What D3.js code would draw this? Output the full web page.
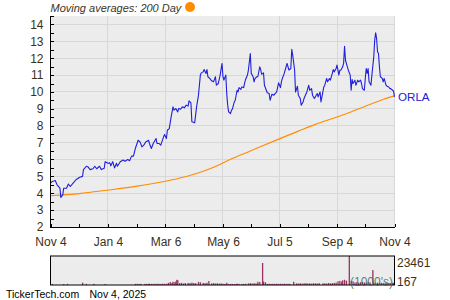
<!DOCTYPE html>
<html><head><meta charset="utf-8">
<script src="https://cdn.jsdelivr.net/npm/d3@7"></script>
<style>body{margin:0;background:#fff;} svg{display:block;font-family:"Liberation Sans",Arial,sans-serif;}</style>
</head><body><svg id="c" width="450" height="300"></svg>
<script>
// ---------- data ----------
const startDateStr = "2024-11-04";
const xTickDates = ["2024-11-04","2025-01-04","2025-03-06","2025-05-06","2025-07-05","2025-09-04","2025-11-04"];
const xTickLabels = ["Nov 4","Jan 4","Mar 6","May 6","Jul 5","Sep 4","Nov 4"];
const xMinorDates = ["2024-12-04","2025-02-04","2025-04-05","2025-06-05","2025-08-04","2025-10-04"];
const yTickValues = [2,3,4,5,6,7,8,9,10,11,12,13,14];
const yMinorValues = [2.5,3.5,4.5,5.5,6.5,7.5,8.5,9.5,10.5,11.5,12.5,13.5,14.5];
const symbol = "ORLA";
const titleText = "Moving averages: 200 Day";
// [days since start, close]
const priceSeries = [[0,4.6],[2,4.7],[5,4.75],[7,4.5],[10,4.3],[11,3.75],[13,3.9],[14,4.3],[17,4.3],[19,4.55],[21,4.4],[24,4.6],[27,4.8],[31,4.95],[34,5.0],[35,5.4],[38,5.6],[40,5.55],[42,5.4],[45,5.45],[47,5.6],[49,5.45],[52,5.6],[54,5.4],[57,5.48],[58,5.87],[61,5.78],[63,5.8],[64,5.62],[66,5.87],[68,5.5],[70,5.78],[71,5.6],[74,5.87],[77,5.97],[79,5.9],[82,6.0],[84,5.93],[86,6.2],[88,6.2],[90,6.65],[93,7.14],[95,7.04],[97,6.75],[99,6.85],[101,7.04],[104,7.14],[105,6.95],[107,6.65],[109,6.95],[112,7.24],[113,6.95],[115,6.95],[117,6.85],[120,7.34],[121,7.48],[123,7.24],[124,7.73],[126,7.83],[128,8.52],[130,9.12],[131,8.92],[133,9.02],[135,8.82],[136,9.02],[138,8.98],[140,9.12],[142,9.06],[144,9.22],[146,9.16],[147,9.47],[149,9.35],[150,8.23],[153,8.17],[155,9.12],[157,9.81],[159,11.0],[160,11.13],[162,11.19],[163,11.33],[165,11.1],[166,11.33],[167,10.9],[169,10.8],[171,10.66],[173,10.6],[175,10.9],[176,10.4],[178,10.5],[180,11.0],[182,11.69],[183,10.9],[184,10.7],[186,11.0],[187,9.9],[188,9.22],[189,8.82],[191,8.72],[192,8.92],[193,8.98],[195,9.41],[196,9.51],[198,10.1],[199,10.0],[200,10.26],[202,10.15],[203,10.3],[205,10.26],[206,10.54],[207,10.74],[209,11.0],[210,11.3],[212,12.28],[213,11.1],[215,10.9],[216,10.6],[217,10.8],[219,10.9],[220,10.9],[222,11.49],[223,11.33],[224,11.05],[226,11.13],[227,10.4],[229,10.1],[230,9.95],[232,9.91],[233,9.51],[235,9.87],[237,9.81],[239,9.95],[240,10.0],[242,10.54],[244,10.26],[245,10.6],[246,10.8],[248,11.1],[249,11.3],[251,11.69],[253,11.3],[255,11.39],[256,12.52],[257,12.18],[259,11.3],[260,10.0],[262,10.34],[263,9.81],[265,9.61],[266,9.22],[268,9.41],[269,9.61],[270,9.75],[272,10.0],[274,10.4],[275,10.1],[277,10.2],[278,9.81],[280,9.61],[282,9.81],[283,9.91],[284,9.71],[286,10.0],[287,9.41],[289,10.0],[290,10.3],[291,10.4],[293,10.8],[294,10.6],[296,10.8],[297,10.7],[299,11.1],[300,11.33],[301,11.19],[303,11.39],[304,11.59],[306,11.0],[307,11.29],[308,11.29],[310,11.49],[311,11.69],[312,12.71],[313,11.88],[315,11.49],[316,11.29],[318,11.0],[319,10.1],[320,10.74],[321,10.5],[323,10.7],[324,10.4],[326,10.7],[327,10.6],[329,10.7],[330,10.5],[331,10.2],[333,10.1],[334,10.8],[335,11.39],[336,11.1],[337,11.39],[338,10.6],[340,10.4],[341,11.0],[343,12.08],[344,13.07],[345,13.5],[346,13.17],[347,12.38],[348,12.28],[349,11.49],[350,10.9],[352,10.8],[353,10.6],[354,10.8],[356,10.4],[357,10.34],[359,10.3],[360,10.2],[361,10.2],[363,10.1],[364,10.06],[365,9.71]];
// [days since start, 200-day moving average]
const maSeries = [[0,3.85],[31,3.98],[60,4.18],[92,4.42],[122,4.71],[143,4.98],[159,5.24],[175,5.58],[190,5.98],[212,6.5],[244,7.25],[263,7.68],[281,8.08],[304,8.52],[318,8.8],[336,9.2],[350,9.5],[365,9.77]];
// [days since start, volume in 1000's]
const volumeSeries = [[2,850],[14,800],[18,900],[34,1900],[38,950],[46,900],[58,820],[90,900],[92,950],[94,880],[96,920],[100,900],[102,950],[104,880],[105,1000],[107,900],[109,950],[111,880],[113,1000],[115,950],[117,900],[119,1000],[121,950],[123,900],[125,1700],[127,2400],[129,1800],[130,2600],[132,2300],[133,2800],[134,4200],[135,3900],[137,1500],[139,1700],[141,1200],[143,1600],[146,1700],[148,1500],[150,1900],[152,1600],[154,1400],[157,2500],[159,2200],[162,1700],[164,1500],[166,1800],[168,3200],[171,1300],[173,1500],[175,1200],[177,1400],[179,1100],[181,1300],[183,1000],[185,900],[187,1800],[189,800],[191,900],[193,850],[195,800],[197,900],[198,1000],[200,900],[203,850],[205,900],[207,1000],[210,1300],[212,1500],[214,1200],[216,1400],[218,1300],[220,2600],[222,2400],[225,17800],[226,2800],[228,2200],[230,900],[232,1000],[234,850],[236,950],[238,900],[240,1000],[242,880],[244,950],[246,900],[248,1000],[250,900],[252,950],[254,880],[258,2600],[261,1300],[263,1200],[265,1400],[267,1100],[269,1300],[271,1500],[273,1200],[275,1300],[277,1100],[279,1400],[281,1300],[283,1200],[285,1500],[289,1300],[291,1400],[293,1200],[295,1600],[297,1300],[299,1500],[301,1700],[303,1900],[305,3000],[307,3300],[309,2800],[310,3800],[312,4200],[314,3500],[317,23461],[319,3300],[321,3000],[323,2000],[325,2300],[327,1900],[329,2200],[331,2500],[333,2000],[335,1800],[337,2400],[339,2100],[342,12100],[343,1800],[345,1700],[347,1900],[349,1600],[351,1800],[353,1700],[355,1500],[357,1800],[359,1600],[361,1700],[363,1500],[364,1800]];
const volumeLabels = [23461, 167];
const volumeUnit = "(1000's)";
const footerText = ["TickerTech.com", "Nov 4, 2025"];

// ---------- layout ----------
const parse = d3.timeParse("%Y-%m-%d");
const start = parse(startDateStr);
const toDate = d => d3.timeDay.offset(start, d);
const svg = d3.select("#c");
const L = 50.5, R = 394.5, T = 16, B = 227;
const x = d3.scaleTime().domain([start, parse(xTickDates[xTickDates.length-1])]).range([L, R]);
const y = d3.scaleLinear().domain([2, 14.5]).range([B, T]);
const textCol = "#3d3015";

svg.append("rect").attr("x", L).attr("y", T).attr("width", R - L).attr("height", B - T).attr("fill", "#ececec");

// gridlines
svg.append("g").selectAll("line").data(yTickValues.slice(1)).join("line")
  .attr("x1", L).attr("x2", R).attr("y1", d => y(d)).attr("y2", d => y(d))
  .attr("stroke", "#d8d8d8").attr("stroke-width", 1).attr("shape-rendering", "crispEdges");
svg.append("g").selectAll("line").data(xTickDates.slice(1)).join("line")
  .attr("x1", d => x(parse(d))).attr("x2", d => x(parse(d))).attr("y1", T).attr("y2", B)
  .attr("stroke", "#d8d8d8").attr("stroke-width", 1).attr("shape-rendering", "crispEdges");

// lines
const line = d3.line().x(d => x(toDate(d[0]))).y(d => y(d[1]));
const maLine = d3.line().curve(d3.curveMonotoneX).x(d => x(toDate(d[0]))).y(d => y(d[1]));
svg.append("path").datum(maSeries).attr("d", maLine).attr("fill", "none").attr("stroke", "#ff8c00").attr("stroke-width", 1.1);
svg.append("path").datum(priceSeries).attr("d", line).attr("fill", "none").attr("stroke", "#1f1fdc").attr("stroke-width", 1.1).attr("stroke-linejoin", "round");

// axes
const yAxis = d3.axisLeft(y).tickValues(yTickValues).tickSize(-3).tickPadding(7).tickFormat(d3.format("d"));
const gy = svg.append("g").attr("transform", `translate(${L},0)`).call(yAxis);
const yMinor = d3.axisLeft(y).tickValues(yMinorValues).tickSize(-3).tickFormat("");
const gym = svg.append("g").attr("transform", `translate(${L},0)`).call(yMinor);
gym.select(".domain").remove();
const xAxis = d3.axisBottom(x).tickValues(xTickDates.map(parse)).tickSize(-3).tickPadding(10.5)
  .tickFormat((d, i) => xTickLabels[i]);
const gx = svg.append("g").attr("transform", `translate(0,${B})`).call(xAxis);
const xMinor = d3.axisBottom(x).tickValues(xMinorDates.map(parse)).tickSize(-3).tickFormat("");
const gxm = svg.append("g").attr("transform", `translate(0,${B})`).call(xMinor);
gxm.select(".domain").remove();
[gy, gx].forEach(g => {
  g.selectAll("text").attr("fill", textCol).style("font-size", "12px").style("font-family", '"Liberation Sans",Arial,sans-serif');
});
gy.select(".domain").remove(); gx.select(".domain").remove();
svg.append("line").attr("x1", L).attr("x2", L).attr("y1", T).attr("y2", B + 0.5).attr("stroke", "#000").attr("shape-rendering", "crispEdges");
svg.append("line").attr("x1", L).attr("x2", R + 0.5).attr("y1", B).attr("y2", B).attr("stroke", "#000").attr("shape-rendering", "crispEdges");
svg.selectAll(".tick line").attr("stroke", "#000").attr("shape-rendering", "crispEdges");

// title
svg.append("text").attr("x", 50.5).attr("y", 11.5).attr("font-style", "italic").attr("font-size", 11)
  .attr("fill", "#3a3528").text(titleText);
svg.append("circle").attr("cx", 190).attr("cy", 7).attr("r", 5).attr("fill", "#ff8c00");

// symbol label at last price
const last = priceSeries[priceSeries.length - 1];
svg.append("text").attr("x", x(toDate(last[0])) + 3.5).attr("y", y(last[1]) + 4.3)
  .attr("font-size", 11.6).attr("fill", "#2020d0").text(symbol);

// volume panel
const VT = 256, VB = 285;
const yv = d3.scaleLinear().domain([0, volumeLabels[0]]).range([VB, VT]);
svg.append("rect").attr("x", L).attr("y", VT).attr("width", R - L).attr("height", VB - VT).attr("fill", "#ececec");
svg.append("g").selectAll("rect").data(volumeSeries).join("rect")
  .attr("x", d => x(toDate(d[0])) - 0.6).attr("width", 1.3)
  .attr("y", d => yv(d[1])).attr("height", d => VB - yv(d[1]))
  .attr("fill", "#993366");
svg.append("rect").attr("x", L).attr("y", VT).attr("width", R - L).attr("height", VB - VT)
  .attr("fill", "none").attr("stroke", "#000").attr("stroke-width", 1);
svg.append("text").attr("x", R - 1.5).attr("y", VB + 0.5).attr("text-anchor", "end").attr("font-size", 12)
  .attr("fill", "#3b6b5b").attr("fill-opacity", 0.85).text(volumeUnit);
svg.append("text").attr("x", 397).attr("y", yv(volumeLabels[0]) + 11.3).attr("font-size", 12).attr("fill", textCol).text(volumeLabels[0]);
svg.append("text").attr("x", 397).attr("y", yv(volumeLabels[1]) + 1.3).attr("font-size", 12).attr("fill", textCol).text(volumeLabels[1]);

// footer
svg.append("text").attr("x", 6).attr("y", 298).attr("font-size", 10.5).attr("fill", "#000").text(footerText[0]);
svg.append("text").attr("x", 89.5).attr("y", 298).attr("font-size", 10.5).attr("fill", "#000").text(footerText[1]);
</script></body></html>
